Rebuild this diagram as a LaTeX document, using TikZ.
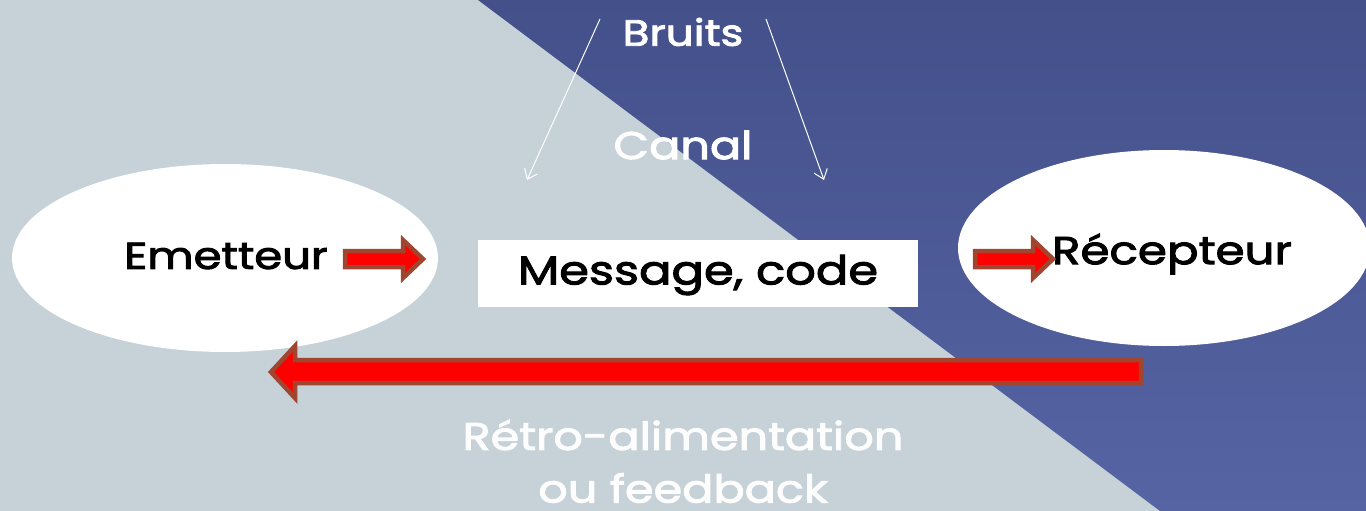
\documentclass[tikz,border=0pt]{standalone}
\usepackage{fontspec}
\setmainfont{Poppins}
\newfontfamily\cmfont{Poppins}[FakeStretch=1.2, FakeBold=2.5]
\usepackage{tikz}
\usetikzlibrary{arrows.meta,shapes.geometric}
\definecolor{cmPale}{HTML}{C6D1D8}
\definecolor{cmNavyTop}{HTML}{43508A}
\definecolor{cmNavyBot}{HTML}{5664A4}
\definecolor{cmRust}{HTML}{A0452F}
\definecolor{cmRed}{HTML}{FF0000}
\tikzset{
  cm diagram/.style={x=1pt, y=-1pt, line join=miter},
  cm oval/.style={ellipse, draw=none, fill=white, inner sep=0pt},
  cm word/.style={font=\cmfont\fontsize{38}{40}\selectfont, text=black, inner sep=0pt},
  cm light/.style={font=\cmfont\fontsize{38.5}{40}\selectfont, text=white, inner sep=0pt},
  cm block/.style={draw=cmRust, fill=cmRed, line width=4.5pt},
  cm noise/.style={draw=white, line width=1pt, -{Straight Barb[length=9pt,width=14pt]}}
}
\begin{document}
\begin{tikzpicture}[cm diagram]
\useasboundingbox (0,0) rectangle (1366,511);
% background
\fill[cmPale] (0,0) rectangle (1366,511);
\shade[top color=cmNavyTop, bottom color=cmNavyBot]
  (478,0) -- (1366,0) -- (1366,511) -- (1160,511) -- cycle;
% sender, message, receiver
\node[cm oval, minimum width=426pt, minimum height=188pt] (emetteur) at (225,258) {};
\node[cm oval, minimum width=412pt, minimum height=196pt] (recepteur) at (1164,248) {};
\node[fill=white, minimum width=440pt, minimum height=67pt, inner sep=0pt] (message) at (698,273.5) {};
\node[cm word, font=\cmfont\fontsize{37.5}{40}\selectfont] (emetteurtxt) at (226,256) {Emetteur};
\node[cm word, font=\cmfont\fontsize{40}{42}\selectfont] (messagetxt) at (698,275) {Message, code};
\node[cm word, font=\cmfont\fontsize{39}{41}\selectfont] (recepteurtxt) at (1172,254) {Récepteur};
% labels on the background
\node[cm light, font=\cmfont\fontsize{36.5}{38}\selectfont] (bruits) at (683,32) {Bruits};
\node[cm light] (canal) at (683,145) {Canal};
\node[cm light, text=white!96!cmPale] (retro) at (683,435) {Rétro-alimentation};
\node[cm light, text=white!96!cmPale] (feedback) at (683,488) {ou feedback};
% noise arrows
\coordinate (noiseA) at (600,19);
\coordinate (noiseB) at (766,19);
\coordinate (hitA) at (527,180);
\coordinate (hitB) at (824,180);
\draw[cm noise] (noiseA) -- (hitA);
\draw[cm noise] (noiseB) -- (hitB);
% block arrows
\draw[cm block] (345,251) -- (403,251) -- (403,240) -- (423,259)
  -- (403,278) -- (403,267) -- (345,267) -- cycle;
\draw[cm block] (975,251) -- (1033,251) -- (1033,240) -- (1053,259)
  -- (1033,278) -- (1033,267) -- (975,267) -- cycle;
\draw[cm block] (1141,360) -- (295,360) -- (295,346) -- (271,372)
  -- (295,398) -- (295,383) -- (1141,383) -- cycle;
\end{tikzpicture}
\end{document}
